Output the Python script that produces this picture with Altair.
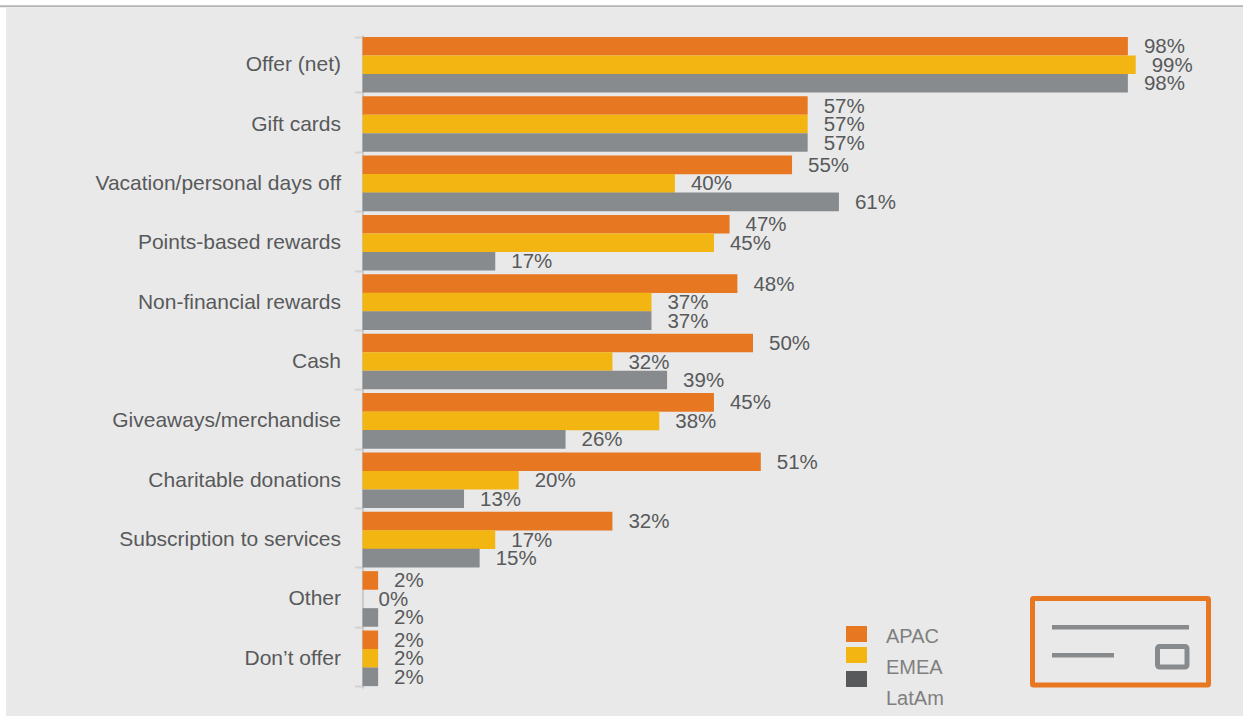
import altair as alt
import pandas as pd

categories = ["Offer (net)", "Gift cards", "Vacation/personal days off", "Points-based rewards",
              "Non-financial rewards", "Cash", "Giveaways/merchandise", "Charitable donations",
              "Subscription to services", "Other\u00a0\u00a0", "Don\u2019t offer"]
apac = [98, 57, 55, 47, 48, 50, 45, 51, 32, 2, 2]
emea = [99, 57, 40, 45, 37, 32, 38, 20, 17, 0, 2]
latam = [98, 57, 61, 17, 37, 39, 26, 13, 15, 2, 2]
regions = ["APAC", "EMEA", "LatAm"]
bar_colors = ["#e87722", "#f3b511", "#888b8d"]

FONT = "Liberation Sans"
TEXT = "#58595b"
PAGE = "#e9e9e9"
LEFT, TOP = 362.5, 35

rows = []
for region, series in zip(regions, [apac, emea, latam]):
    for cat, val in zip(categories, series):
        rows.append({"category": cat, "region": region, "value": val})
df = pd.DataFrame(rows)

x_enc = alt.X("value:Q", axis=None, scale=alt.Scale(domain=[0, 112.74], nice=False, zero=True))
y_enc = alt.Y("category:N", sort=categories, title=None,
              scale=alt.Scale(paddingInner=0.065, paddingOuter=0.0325),
              axis=alt.Axis(tickBand="extent", labelFont=FONT, labelFontSize=21, labelColor=TEXT,
                            labelPadding=14, labelLimit=340, tickSize=8, tickWidth=2, tickColor="#d2d2d2",
                            domainColor="#cacaca", domainWidth=2, grid=False))
y_off = alt.YOffset("region:N", sort=regions, scale=alt.Scale(paddingInner=0, paddingOuter=0))

bars = alt.Chart(df).mark_bar(size=18.6).encode(
    x=x_enc, y=y_enc, yOffset=y_off,
    color=alt.Color("region:N", sort=regions, legend=None,
                    scale=alt.Scale(domain=regions, range=bar_colors)),
)
labels = alt.Chart(df).transform_calculate(label="datum.value + '%'").mark_text(
    align="left", baseline="middle", dx=16, dy=1, font=FONT, fontSize=20.5, color=TEXT,
).encode(x=x_enc, y=y_enc, yOffset=y_off, text="label:N")


def box(x0, x1, y0, y1, **style):
    """Rectangle placed in page pixels, shifted into the plot's coordinates."""
    return alt.Chart(pd.DataFrame({"k": [0]})).mark_rect(**style).encode(
        x=alt.value(x0 - LEFT), x2=alt.value(x1 - LEFT),
        y=alt.value(y0 - TOP), y2=alt.value(y1 - TOP))


def page_text(text, x0, y0):
    return alt.Chart(pd.DataFrame({"k": [0]})).mark_text(
        align="left", baseline="middle", font=FONT, fontSize=20, color="#7f7f7f",
    ).encode(x=alt.value(x0 - LEFT), y=alt.value(y0 - TOP), text=alt.value(text))


# page furniture: white top strip and left margin with the grey header rule
furniture = [
    box(0, 1243, 0, 8, color="#ffffff"),
    box(0, 6, 0, 716, color="#ffffff"),
    box(0, 1243, 5.3, 7.3, color="#b4b4b4"),
]

# hand-placed key
key = [
    box(846, 867, 626, 642, color="#e87722"),
    box(846, 867, 647, 663, color="#f3b511"),
    box(846, 867, 671, 687, color="#58595b"),
    page_text("APAC", 886, 637),
    page_text("EMEA", 886, 668),
    page_text("LatAm", 886, 699),
]

# cheque icon in the lower right corner
icon = [
    box(1032.5, 1208.5, 598.5, 685, fill="transparent", stroke="#e87722", strokeWidth=5, cornerRadius=1),
    box(1052, 1189, 625, 629.5, color="#888b8d"),
    box(1052, 1114, 653, 657.5, color="#888b8d"),
    box(1157.5, 1187, 646.5, 667, fill="transparent", stroke="#888b8d", strokeWidth=5, cornerRadius=2),
]

chart = alt.layer(*furniture, bars, labels, *key, *icon).properties(
    width=880.5, height=653, background=PAGE,
    padding={"left": LEFT, "top": TOP, "right": 0, "bottom": 28},
    autosize=alt.AutoSizeParams(type="none"),
).configure_view(stroke=None)

chart.save("out.html", embed_options={"renderer": "svg", "actions": False})
